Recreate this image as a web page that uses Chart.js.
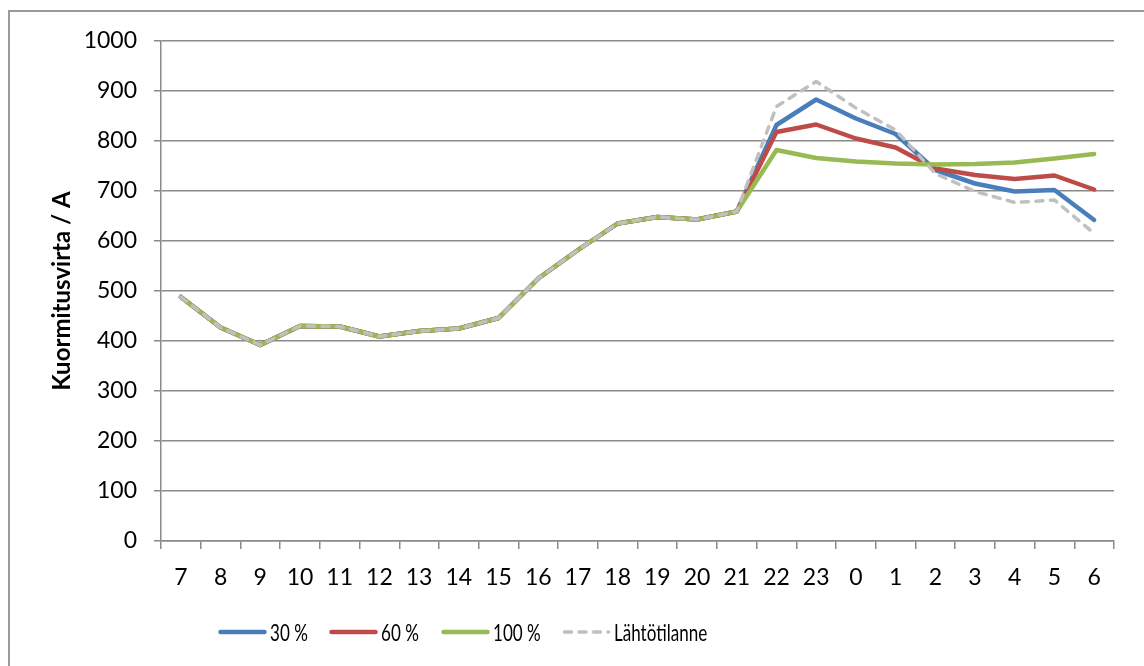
<!DOCTYPE html>
<html>
<head>
<meta charset="utf-8">
<title>Kuormitusvirta</title>
<script src="https://cdn.jsdelivr.net/npm/chart.js@4.4.1/dist/chart.umd.min.js"></script>
<style>
  html, body { margin: 0; padding: 0; background: #fff; }
  #wrap { position: relative; width: 1144px; height: 666px; overflow: hidden; background: #fff; }
  #frame { position: absolute; left: 8px; top: 10px; width: 1200px; height: 700px;
           border-left: 2px solid #9a9a9a; border-top: 2px solid #9a9a9a; box-sizing: border-box; }
  canvas { position: absolute; left: 0; top: 0; }
  #legend { position: absolute; left: 0; top: 0; width: 1144px; height: 666px; pointer-events: none; }
  .item { position: absolute; top: 620px; height: 24px; display: flex; align-items: center; }
  .item svg { display: block; flex: none; }
  .item span { font-family: Lato, "Open Sans", sans-serif; font-size: 24px; color: #000;
               margin-left: 3px; line-height: 24px; white-space: nowrap;
               display: inline-block; transform: scaleX(0.71); transform-origin: 0 50%; }
</style>
</head>
<body>
<div id="wrap">
  <div id="frame"></div>
  <canvas id="c" width="1144" height="666"></canvas>
  <div id="legend"></div>
</div>
<script>
// Hours of the day, starting from 7 in the morning
const hours = ['7','8','9','10','11','12','13','14','15','16','17','18','19','20','21',
               '22','23','0','1','2','3','4','5','6'];

// Load current (A) for each scenario
const load30  = [488, 427, 392, 430, 429, 409, 420, 425, 446, 525, 582, 635, 648, 643, 659,
                 832, 883, 845, 814, 742, 715, 699, 702, 642];
const load60  = [488, 427, 392, 430, 429, 409, 420, 425, 446, 525, 582, 635, 648, 643, 659,
                 818, 833, 805, 787, 745, 732, 724, 731, 703];
const load100 = [488, 427, 392, 430, 429, 409, 420, 425, 446, 525, 582, 635, 648, 643, 659,
                 782, 766, 759, 755, 753, 754, 757, 765, 774];
const baseline = [488, 427, 392, 430, 429, 409, 420, 425, 446, 525, 582, 635, 648, 643, 659,
                 869, 919, 866, 822, 735, 699, 677, 682, 615];

const yTicks = { min: 0, max: 1000, step: 100 };

const gridColor = '#8a8a8a';
const tickFont = { family: 'Lato, "Open Sans", sans-serif', size: 23 };

const series = [
  { label: '30 %',         data: load30,   color: '#4a7ebb', width: 4.5, dash: [],     order: 3 },
  { label: '60 %',         data: load60,   color: '#be4b48', width: 4.5, dash: [],     order: 2 },
  { label: '100 %',        data: load100,  color: '#98b954', width: 4.5, dash: [],     order: 1 },
  { label: 'Lähtötilanne', data: baseline, color: '#c0c0c0', width: 3.5, dash: [7, 7.5], order: 0 }
];

const chart = new Chart(document.getElementById('c'), {
  type: 'line',
  data: {
    labels: hours,
    datasets: series.map(s => ({
      label: s.label,
      data: s.data,
      borderColor: s.color,
      backgroundColor: s.color,
      borderWidth: s.width,
      borderDash: s.dash,
      borderCapStyle: 'round',
      borderJoinStyle: 'round',
      pointRadius: 0,
      tension: 0,
      fill: false,
      order: s.order
    }))
  },
  options: {
    responsive: false,
    animation: false,
    devicePixelRatio: 1,
    layout: { padding: { top: 41, right: 30, left: 0, bottom: 0 } },
    plugins: {
      legend: { display: false },
      tooltip: { enabled: false }
    },
    scales: {
      x: {
        type: 'category',
        offset: true,
        grid: {
          offset: true,
          drawOnChartArea: false,
          drawTicks: true,
          tickLength: 8,
          color: gridColor,
          lineWidth: 1.5
        },
        border: { color: gridColor, width: 1.5 },
        ticks: { color: '#000', font: tickFont, padding: 15, maxRotation: 0, autoSkip: false },
        afterFit: scale => { scale.height = 125; }
      },
      y: {
        min: yTicks.min,
        max: yTicks.max,
        grid: {
          color: gridColor,
          lineWidth: 1.5,
          drawTicks: true,
          tickLength: 7
        },
        border: { color: gridColor, width: 1.5 },
        ticks: {
          stepSize: yTicks.step,
          color: '#000',
          font: tickFont,
          padding: 17,
          callback: v => String(v)
        },
        title: {
          display: true,
          text: 'Kuormitusvirta / A',
          color: '#000',
          font: { family: 'Lato, "Open Sans", sans-serif', size: 24, weight: 'bold' },
          padding: { top: 48, bottom: 0 }
        },
        afterFit: scale => { scale.width = 161; }
      }
    }
  }
});

// Legend row below the plot, built from the dataset styles
const legendX = [218, 329, 441, 562];
const legend = document.getElementById('legend');
chart.data.datasets.forEach((ds, i) => {
  const item = document.createElement('div');
  item.className = 'item';
  item.style.left = legendX[i] + 'px';
  const svgNS = 'http://www.w3.org/2000/svg';
  const svg = document.createElementNS(svgNS, 'svg');
  svg.setAttribute('width', '49');
  svg.setAttribute('height', '24');
  const line = document.createElementNS(svgNS, 'line');
  line.setAttribute('x1', '2.5');
  line.setAttribute('x2', '46.5');
  line.setAttribute('y1', '12');
  line.setAttribute('y2', '12');
  line.setAttribute('stroke', ds.borderColor);
  line.setAttribute('stroke-width', ds.borderWidth);
  line.setAttribute('stroke-linecap', 'round');
  if (ds.borderDash.length) line.setAttribute('stroke-dasharray', ds.borderDash.join(' '));
  svg.appendChild(line);
  const text = document.createElement('span');
  text.textContent = ds.label;
  item.appendChild(svg);
  item.appendChild(text);
  legend.appendChild(item);
});
</script>
</body>
</html>
